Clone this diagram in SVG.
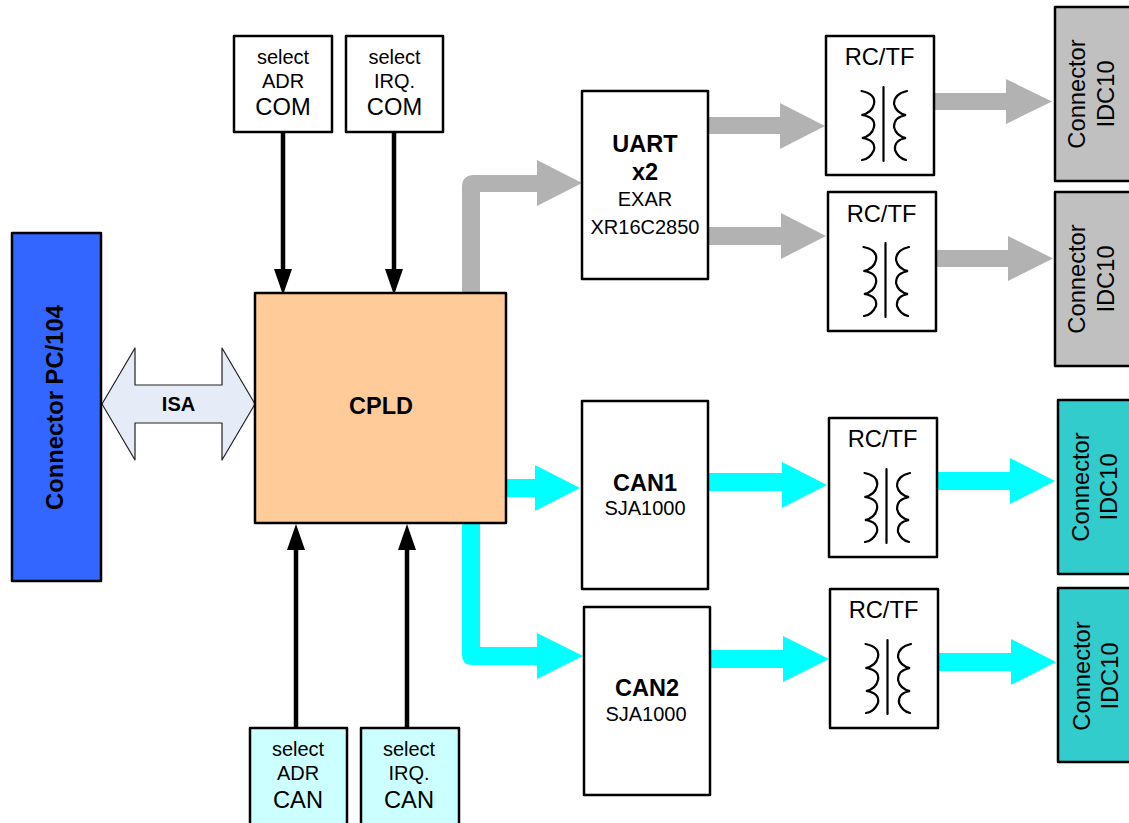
<svg xmlns="http://www.w3.org/2000/svg" width="1129" height="823" viewBox="0 0 1129 823">
<style>
text{font-family:"Liberation Sans",Arial,sans-serif;fill:#000;text-anchor:middle}
.s{font-size:20px}.m{font-size:23.700px}.b{font-size:23.500px;font-weight:bold}
.box{stroke:#000;stroke-width:2.500;stroke-linejoin:round;fill:#fff}
.gray{fill:#b2b2b2}.cyan{fill:#00ffff}
.wire{stroke:#000;stroke-width:4.500;fill:none}
.coil{stroke:#000;stroke-width:2.200;fill:none;stroke-linecap:round}
</style>
<defs>
<g id="tf">
<path class="coil" d="M35.500 55Q50 58 48 68Q46 77 35.500 79Q50 81 48 91Q46 100 36 102Q50 104 48 114Q44 123 36 124"/>
<path class="coil" d="M57.500 51V125"/>
<path class="coil" d="M81 55Q68 58 68 68Q70 77 80 79Q68 81 68 91Q70 100 80 102Q68 104 69 114Q72 122 80 124"/>
</g>
<marker id="bh" markerUnits="userSpaceOnUse" markerWidth="26" markerHeight="18" refX="1" refY="9" orient="auto" viewBox="0 0 26 18"><path d="M0 0L26 9L0 18Z"/></marker>
</defs>
<g id="connectors">
<path class="gray" d="M462 293V187Q462 175 474 175H537V160L582 183L537 206V192H480V293Z"/>
<path class="gray" d="M708 117H780V103L825 126L780 149V134H708Z"/>
<path class="gray" d="M708 227H781V213L826 236L781 259V245H708Z"/>
<path class="gray" d="M934 93H1006V79L1052 101.500L1006 124V110H934Z"/>
<path class="gray" d="M936 250H1008V236L1053 258.500L1008 281V267H936Z"/>
<path class="cyan" d="M506 479H535V465L580 488L535 511V497H506Z"/>
<path class="cyan" d="M462 523V655Q462 665 472 665H537V679L583 656L537 633V647H480V523Z"/>
<path class="cyan" d="M708 473H782V462L827 485L782 508V491H708Z"/>
<path class="cyan" d="M937 472H1010V458L1055 481L1010 504V490H937Z"/>
<path class="cyan" d="M710 650H783V636L829 659L783 682V668H710Z"/>
<path class="cyan" d="M938 653H1011V639L1056 662L1011 685V671H938Z"/>
<path class="wire" marker-end="url(#bh)" d="M283 132V270"/>
<path class="wire" marker-end="url(#bh)" d="M394 132V270"/>
<path class="wire" marker-end="url(#bh)" d="M296 728V549"/>
<path class="wire" marker-end="url(#bh)" d="M407 728V549"/>
<path id="isa-arrow" fill="#e6ecf7" stroke="#222" stroke-width="1.200" stroke-linejoin="round" d="M102 404L135 348V385H222V348L255 404L222 460V423H135V460Z"/>
<text x="178.500" y="411" style="font-size:20px;font-weight:bold">ISA</text>
</g>
<g id="connector-pc104"><rect class="box" x="12" y="233" width="89" height="348" style="fill:#3366ff"/><text class="b" style="font-size:23.800px" transform="translate(63 407.500) rotate(-90)">Connector PC/104</text></g>
<g id="cpld"><rect class="box" x="255" y="293" width="251" height="230" style="fill:#ffcc99"/><text class="b" x="381" y="414">CPLD</text></g>
<g id="select-adr-com"><rect class="box" x="234" y="36" width="98" height="96"/><text class="s" x="283" y="64">select</text><text class="s" x="283" y="88">ADR</text><text class="m" x="283" y="115">COM</text></g>
<g id="select-irq-com"><rect class="box" x="346" y="36" width="97" height="96"/><text class="s" x="394.500" y="64">select</text><text class="s" x="394.500" y="88">IRQ.</text><text class="m" x="394.500" y="115">COM</text></g>
<g id="select-adr-can"><rect class="box" x="250" y="728" width="97" height="100" style="fill:#ccffff"/><text class="s" x="298" y="756">select</text><text class="s" x="298" y="780">ADR</text><text class="m" x="298" y="808">CAN</text></g>
<g id="select-irq-can"><rect class="box" x="361" y="728" width="98" height="100" style="fill:#ccffff"/><text class="s" x="409" y="756">select</text><text class="s" x="409" y="780">IRQ.</text><text class="m" x="409" y="808">CAN</text></g>
<g id="uart"><rect class="box" x="582" y="91" width="126" height="188"/><text class="b" x="645" y="152">UART</text><text class="b" x="645" y="180">x2</text><text class="s" x="645" y="206">EXAR</text><text class="s" x="645" y="234">XR16C2850</text></g>
<g id="can1"><rect class="box" x="582" y="401" width="126" height="188"/><text class="b" x="645" y="491">CAN1</text><text class="s" x="645" y="515">SJA1000</text></g>
<g id="can2"><rect class="box" x="584" y="607" width="126" height="188"/><text class="b" x="647" y="696">CAN2</text><text class="s" x="646" y="721">SJA1000</text></g>
<g id="rctf1"><rect class="box" x="826" y="36" width="108" height="139"/><text class="m" x="879.500" y="65">RC/TF</text><use href="#tf" x="826" y="36"/></g>
<g id="rctf2"><rect class="box" x="828" y="192" width="108" height="139"/><text class="m" x="881.500" y="222">RC/TF</text><use href="#tf" x="828" y="192"/></g>
<g id="rctf3"><rect class="box" x="829" y="418" width="108" height="139"/><text class="m" x="882.500" y="447">RC/TF</text><use href="#tf" x="829" y="418"/></g>
<g id="rctf4"><rect class="box" x="830" y="589" width="108" height="139"/><text class="m" x="883.500" y="618">RC/TF</text><use href="#tf" x="830" y="589"/></g>
<g id="conn1"><rect class="box" x="1055" y="7" width="80" height="174" style="fill:#c0c0c0"/><text class="m" transform="translate(1085 94) rotate(-90)">Connector</text><text class="m" transform="translate(1114 94) rotate(-90)">IDC10</text></g>
<g id="conn2"><rect class="box" x="1055" y="192" width="80" height="174" style="fill:#c0c0c0"/><text class="m" transform="translate(1085 279) rotate(-90)">Connector</text><text class="m" transform="translate(1114 279) rotate(-90)">IDC10</text></g>
<g id="conn3"><rect class="box" x="1058" y="400" width="80" height="174" style="fill:#33cccc"/><text class="m" transform="translate(1089 487) rotate(-90)">Connector</text><text class="m" transform="translate(1117 487) rotate(-90)">IDC10</text></g>
<g id="conn4"><rect class="box" x="1058" y="588" width="80" height="174" style="fill:#33cccc"/><text class="m" transform="translate(1090 676) rotate(-90)">Connector</text><text class="m" transform="translate(1118 676) rotate(-90)">IDC10</text></g>
</svg>
